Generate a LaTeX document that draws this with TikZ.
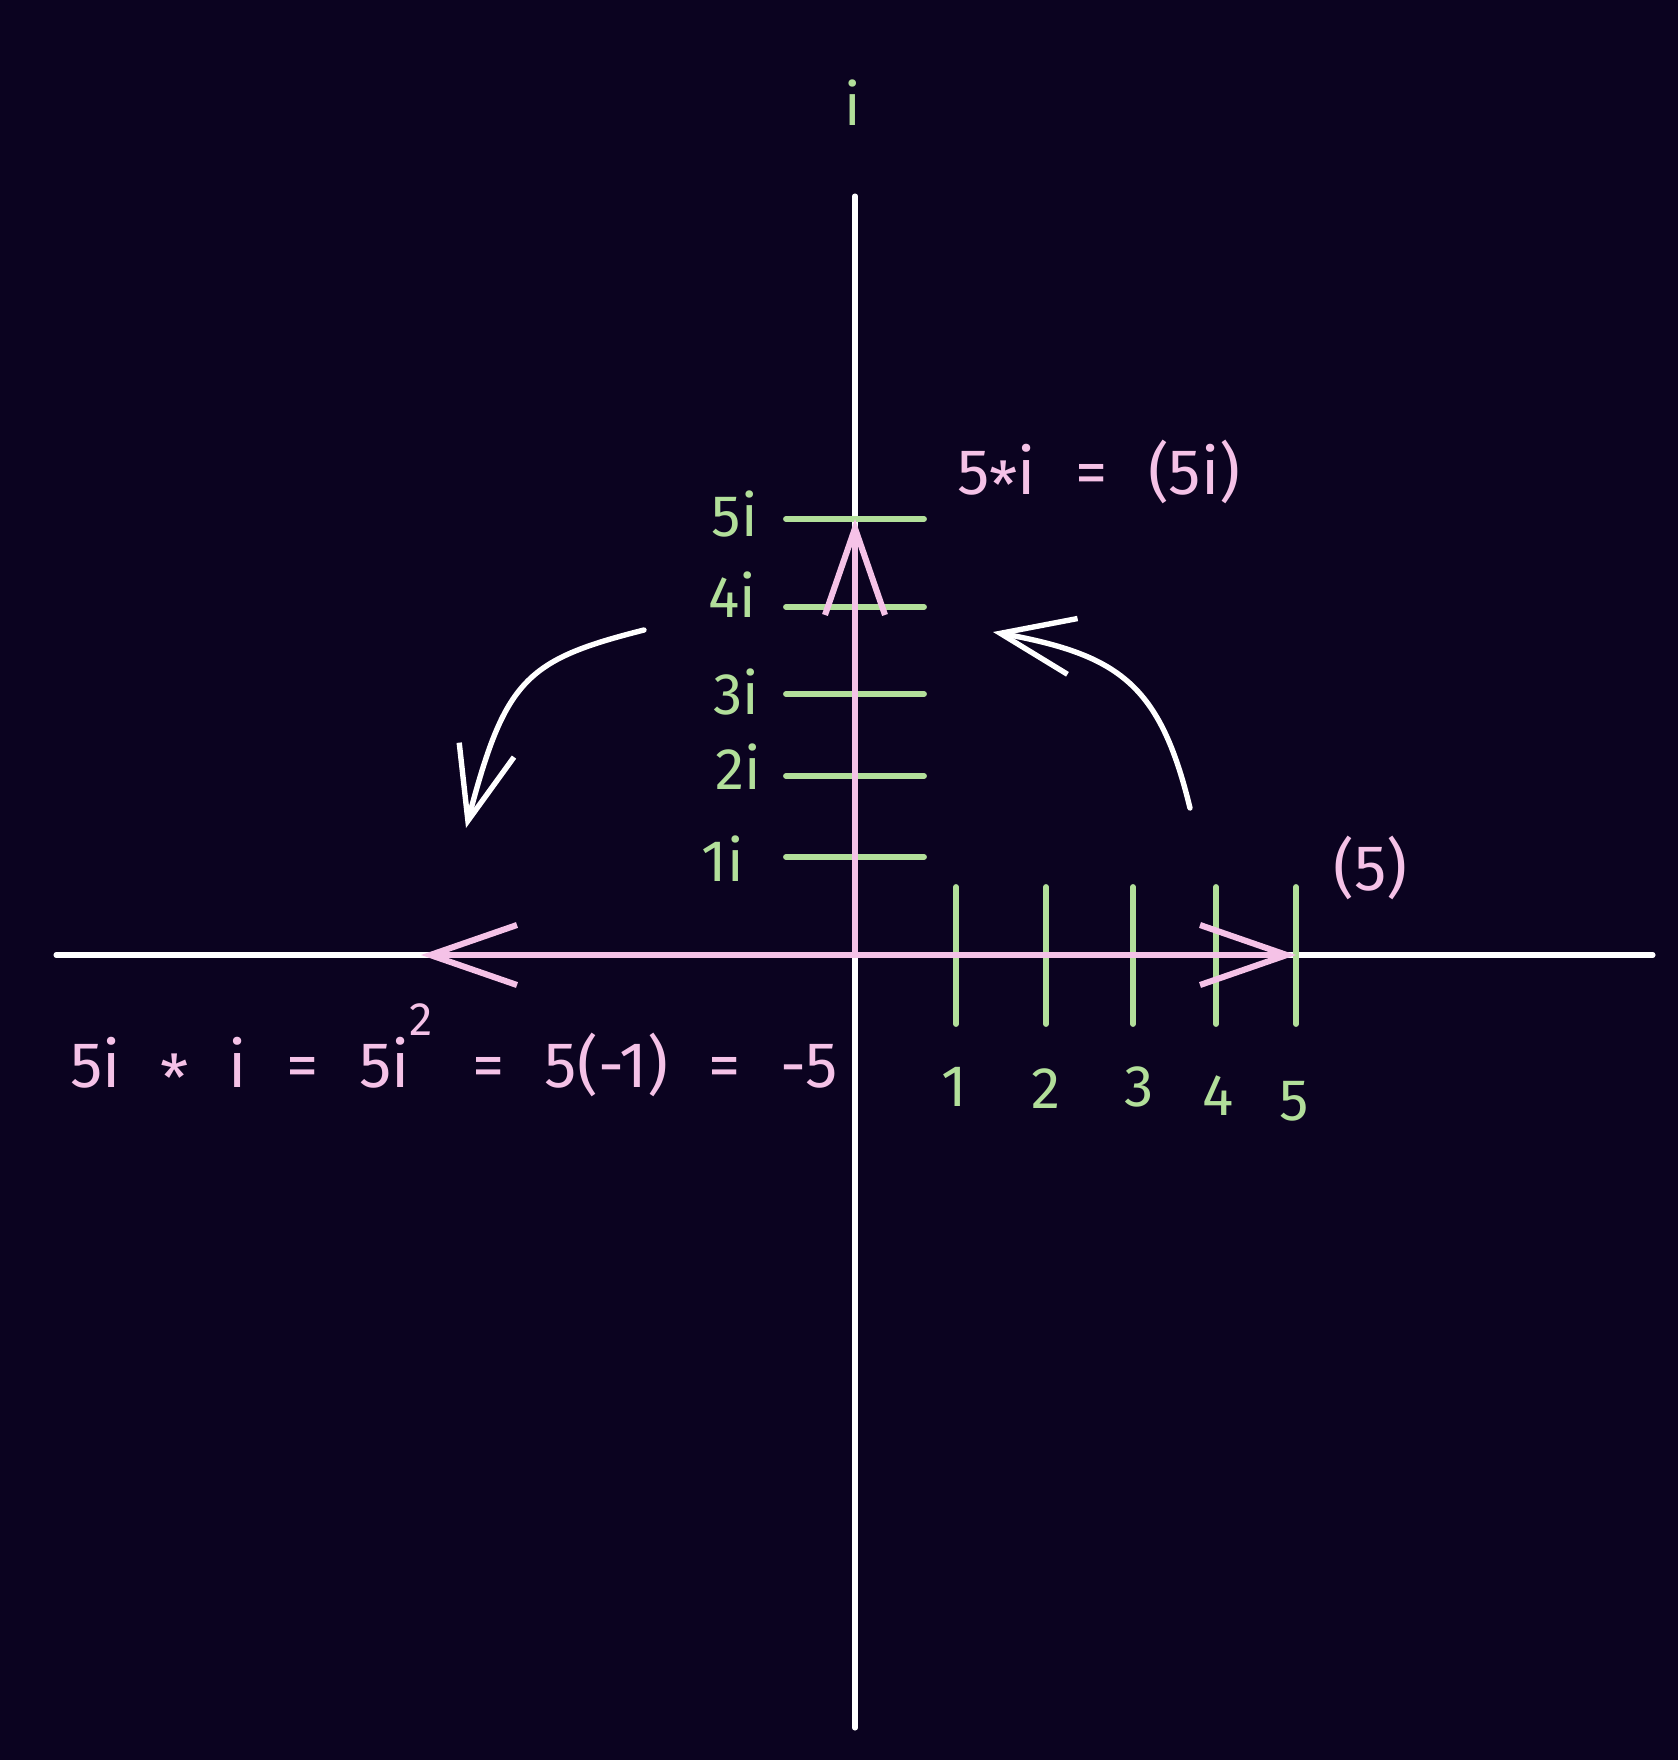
\documentclass[tikz,border=0pt]{standalone}
\usepackage{fontspec}
\setmainfont{Fira Sans}
\usetikzlibrary{arrows.meta, positioning}
\definecolor{planebg}{RGB}{11, 3, 32}
\definecolor{planegreen}{RGB}{178, 223, 154}
\definecolor{planepink}{RGB}{245, 194, 231}
\newcommand{\midstar}{\raisebox{-0.22em}{*}}
\newcommand{\widespaces}{\spaceskip=0.62em\relax}

\begin{document}
\begin{tikzpicture}[
    x=0.03cm, y=-0.03cm,
    every node/.style={font=\fontsize{50}{60}\selectfont, inner sep=0pt},
    axis/.style={draw=white, line width=4.3pt, line cap=round},
    tick/.style={draw=planegreen, line width=5pt, line cap=round},
    arrow/.style={-{Straight Barb[length=2.6cm, width=1.8cm]}, draw=planepink, line width=5.2pt},
    turn/.style={-{Straight Barb[length=2.2cm, width=1.7cm]}, draw=white, line width=4.6pt, line cap=round},
    label/.style={text=planegreen},
    note/.style={text=planepink, font=\fontsize{55}{66}\selectfont}
]

\fill[planebg] (0,0) rectangle (1678,1760);

% axes
\coordinate (origin) at (855,955);
\coordinate (top) at (855,196);
\coordinate (bottom) at (855,1728);
\coordinate (left) at (56,955);
\coordinate (right) at (1653,955);
\draw[axis] (top) -- (bottom);
\draw[axis] (left) -- (right);

\node[label] (imag) at (853,103) {i};

% ticks on the imaginary axis
\draw[tick] (786,519) -- (924,519);
\draw[tick] (786,607) -- (924,607);
\draw[tick] (786,694) -- (924,694);
\draw[tick] (786,776) -- (924,776);
\draw[tick] (786,857) -- (924,857);

\node[label, anchor=base east] (fivei) at (758,536) {5i};
\node[label, anchor=base east] (fouri) at (756,617) {4i};
\node[label, anchor=base east] (threei) at (759,714) {3i};
\node[label, anchor=base east] (twoi) at (761,789) {2i};
\node[label, anchor=base east] (onei) at (744,881) {1i};

% ticks on the real axis
\draw[tick] (956,887) -- (956,1024);
\draw[tick] (1046,887) -- (1046,1024);
\draw[tick] (1133,887) -- (1133,1024);
\draw[tick] (1216,887) -- (1216,1024);
\draw[tick] (1296,887) -- (1296,1024);

\node[label, anchor=base] (one) at (954,1106) {1};
\node[label, anchor=base] (two) at (1046,1108) {2};
\node[label, anchor=base] (three) at (1139,1106) {3};
\node[label, anchor=base] (four) at (1218,1115) {4};
\node[label, anchor=base] (five) at (1294,1120) {5};

% rotations
\coordinate (real) at (1296,955);
\coordinate (imaginary) at (855,519);
\coordinate (negative) at (421,955);
\draw[arrow] (origin) -- (real);
\draw[arrow] (origin) -- (imaginary);
\draw[arrow] (origin) -- (negative);

\node[note, anchor=base west] (product) at (957,494) {\widespaces 5\midstar i = (5i)};
\node[note, anchor=base west] (start) at (1333,890) {(5)};
\node[note, anchor=base west] (square) at (70,1087)
    {\widespaces 5i \midstar{} i = 5i\raisebox{44pt}{\fontsize{40}{40}\selectfont 2} = 5(-1) = -5};

\coordinate (turnastart) at (1190,808);
\coordinate (turnaend) at (993,632);
\coordinate (turnbstart) at (644,630);
\coordinate (turnbend) at (466,828);
\draw[turn] (turnastart) .. controls (1160,685) and (1120,655) .. (turnaend);
\draw[turn] (turnbstart) .. controls (525,660) and (505,680) .. (turnbend);

\end{tikzpicture}
\end{document}
